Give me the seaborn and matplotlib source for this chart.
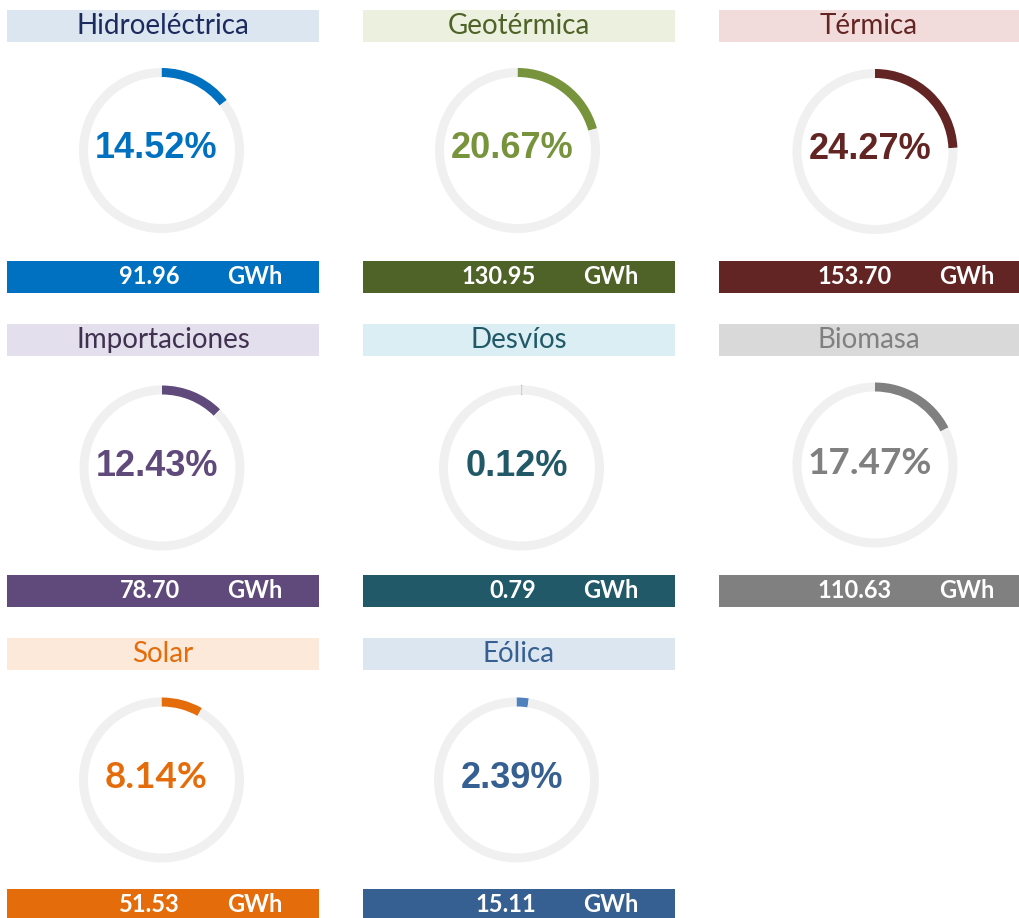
import matplotlib
matplotlib.use("Agg")
import matplotlib.pyplot as plt
import seaborn as sns
from matplotlib.patches import Rectangle

# Datos del tablero
categorias = ["Hidroeléctrica", "Geotérmica", "Térmica",
              "Importaciones", "Desvíos", "Biomasa",
              "Solar", "Eólica"]
porcentajes = [14.52, 20.67, 24.27, 12.43, 0.12, 17.47, 8.14, 2.39]
energia_gwh = [91.96, 130.95, 153.70, 78.70, 0.79, 110.63, 51.53, 15.11]
unidad = "GWh"

# Colores por tecnología
color_arco = ["#0070C0", "#77933C", "#632523", "#604A7B",
              "#215968", "#808080", "#E46C0A", "#4F81BD"]
color_pct = ["#0070C0", "#77933C", "#632523", "#604A7B",
             "#215968", "#808080", "#E46C0A", "#366092"]
color_pie = ["#0070C0", "#4F6228", "#632523", "#604A7B",
             "#215968", "#808080", "#E46C0A", "#366092"]
color_cabecera = ["#DCE6F1", "#EBF1DE", "#F2DCDB", "#E4DFEC",
                  "#DAEEF3", "#D9D9D9", "#FDE9D9", "#DCE6F1"]
color_titulo = ["#1C2A5E", "#4F6228", "#632523", "#403151",
                "#215968", "#808080", "#E46C0A", "#366092"]
fuente_pct = ["Liberation Sans", "Liberation Sans", "Liberation Sans",
              "Liberation Sans", "Liberation Sans", "Lato", "Lato",
              "Liberation Sans"]
GRIS_ANILLO = "#F0F0F0"

sns.set_theme(style="white")
plt.rcParams["font.family"] = ["Lato", "DejaVu Sans"]

W, H = 1019, 918
fig = plt.figure(figsize=(W / 100, H / 100), dpi=100)
fig.patch.set_facecolor("white")

# Capa de fondo en pixeles para cabeceras y pies
bg = fig.add_axes([0, 0, 1, 1])
bg.set_xlim(0, W)
bg.set_ylim(H, 0)
bg.axis("off")

col_x = [(7, 319), (363, 675), (719, 1019)]
fila_y = [10, 324, 638]
centros = [(161.5, 150.5), (517.5, 150.5), (875, 151.5),
           (162, 468), (521.5, 468), (875, 465),
           (161.5, 780), (516.5, 780)]
RADIO = 82.5
ANCHO = 9

for i, cat in enumerate(categorias):
    fila, col = divmod(i, 3)
    x0, x1 = col_x[col]
    y0 = fila_y[fila]

    # cabecera
    bg.add_patch(Rectangle((x0, y0), x1 - x0, 32, color=color_cabecera[i], lw=0))
    bg.text((x0 + x1) / 2, y0 + 16, cat, ha="center", va="center",
            fontsize=20, color=color_titulo[i])

    # pie con energía
    yb = y0 + 251
    bg.add_patch(Rectangle((x0, yb), x1 - x0, 32, color=color_pie[i], lw=0))
    bg.text(x0 + 173, yb + 16, f"{energia_gwh[i]:.2f}", ha="right", va="center",
            fontsize=17, fontweight="bold", color="white")
    bg.text(x0 + 220, yb + 16, unidad, ha="left", va="center",
            fontsize=17, fontweight="bold", color="white")

    # anillo
    cx, cy = centros[i]
    R = RADIO + 4
    ax = fig.add_axes([(cx - R) / W, 1 - (cy + R) / H, 2 * R / W, 2 * R / H])
    wedges, _ = ax.pie([porcentajes[i], 100 - porcentajes[i]],
                       colors=[color_arco[i], GRIS_ANILLO],
                       startangle=90, counterclock=False, radius=RADIO,
                       wedgeprops=dict(width=ANCHO, linewidth=0))
    if porcentajes[i] < 1:
        wedges[0].set_edgecolor("#B0B0B0")
        wedges[0].set_linewidth(0.8)
    ax.set_xlim(-R, R)
    ax.set_ylim(-R, R)
    ax.set_aspect("equal")
    ax.axis("off")
    ax.text(-5, 2, f"{porcentajes[i]:.2f}%", ha="center", va="center",
            fontsize=26 if fuente_pct[i] == "Liberation Sans" else 26.5,
            fontweight="bold", color=color_pct[i],
            family=[fuente_pct[i], "DejaVu Sans"])

fig.savefig("out.png", dpi=100, facecolor="white")
